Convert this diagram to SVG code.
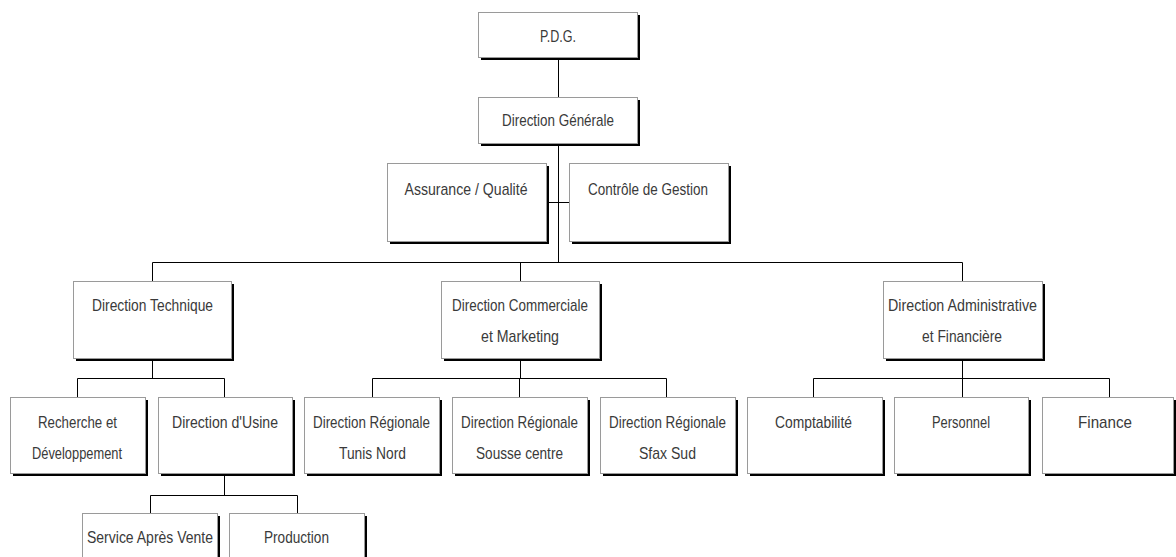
<svg xmlns="http://www.w3.org/2000/svg" width="1176" height="557" viewBox="0 0 1176 557">
<style>
.sh{fill:#000}
.bx{fill:#fff;stroke:#9a9a9a;stroke-width:1}
.t{font-family:"Liberation Sans",Arial,sans-serif;font-size:17px;fill:#3a3a3a;text-anchor:middle}
.c{fill:none;stroke:#000;stroke-width:1}
</style>
<rect width="1176" height="557" fill="#fff"/>
<g id="connectors">
<path class="c" d="M558.5 57V97M558.5 143V262.5M546 202.5H569M152.5 262.5H962.5M152.5 262.5V281M520.5 262.5V281M962.5 262.5V281"/>
<path class="c" d="M152.5 358V378.5M77.5 378.5H224.5M77.5 378.5V397M224.5 378.5V397"/>
<path class="c" d="M520.5 358V378.5M372.5 378.5H666.5M372.5 378.5V397M519.5 378.5V397M666.5 378.5V397"/>
<path class="c" d="M962.5 358V378.5M813.5 378.5H1109.5M813.5 378.5V397M962.5 378.5V397M1109.5 378.5V397"/>
<path class="c" d="M224.5 473V495.5M150.5 495.5H297.5M150.5 495.5V513M297.5 495.5V513"/>
</g>
<g id="pdg"><rect class="sh" x="481" y="15" width="159" height="45"/><rect class="bx" x="478.5" y="12.5" width="159" height="45"/><text class="t" x="558" y="42" textLength="36" lengthAdjust="spacingAndGlyphs">P.D.G.</text></g>
<g id="direction-generale"><rect class="sh" x="481" y="100" width="159" height="46"/><rect class="bx" x="478.5" y="97.5" width="159" height="46"/><text class="t" x="558" y="126" textLength="112" lengthAdjust="spacingAndGlyphs">Direction Générale</text></g>
<g id="assurance-qualite"><rect class="sh" x="390" y="166" width="159" height="78"/><rect class="bx" x="387.5" y="163.5" width="159" height="78"/><text class="t" x="466" y="195" textLength="123" lengthAdjust="spacingAndGlyphs">Assurance / Qualité</text></g>
<g id="controle-gestion"><rect class="sh" x="572" y="166" width="159" height="78"/><rect class="bx" x="569.5" y="163.5" width="159" height="78"/><text class="t" x="648" y="195" textLength="120" lengthAdjust="spacingAndGlyphs">Contrôle de Gestion</text></g>
<g id="direction-technique"><rect class="sh" x="76" y="284" width="158" height="77"/><rect class="bx" x="73.5" y="281.5" width="158" height="77"/><text class="t" x="152.5" y="311" textLength="121" lengthAdjust="spacingAndGlyphs">Direction Technique</text></g>
<g id="direction-commerciale"><rect class="sh" x="444" y="284" width="158" height="77"/><rect class="bx" x="441.5" y="281.5" width="158" height="77"/><text class="t" x="520" y="311" textLength="136" lengthAdjust="spacingAndGlyphs">Direction Commerciale</text><text class="t" x="520" y="342" textLength="78" lengthAdjust="spacingAndGlyphs">et Marketing</text></g>
<g id="direction-administrative"><rect class="sh" x="886" y="284" width="159" height="77"/><rect class="bx" x="883.5" y="281.5" width="159" height="77"/><text class="t" x="962.5" y="311" textLength="149" lengthAdjust="spacingAndGlyphs">Direction Administrative</text><text class="t" x="962" y="342" textLength="80" lengthAdjust="spacingAndGlyphs">et Financière</text></g>
<g id="recherche-developpement"><rect class="sh" x="13" y="400" width="135" height="76"/><rect class="bx" x="10.5" y="397.5" width="135" height="76"/><text class="t" x="77.5" y="428" textLength="79" lengthAdjust="spacingAndGlyphs">Recherche et</text><text class="t" x="77" y="459" textLength="90" lengthAdjust="spacingAndGlyphs">Développement</text></g>
<g id="direction-usine"><rect class="sh" x="161" y="400" width="134" height="76"/><rect class="bx" x="158.5" y="397.5" width="134" height="76"/><text class="t" x="225" y="428" textLength="106" lengthAdjust="spacingAndGlyphs">Direction d'Usine</text></g>
<g id="dr-tunis-nord"><rect class="sh" x="307" y="400" width="135" height="76"/><rect class="bx" x="304.5" y="397.5" width="135" height="76"/><text class="t" x="371.5" y="428" textLength="117" lengthAdjust="spacingAndGlyphs">Direction Régionale</text><text class="t" x="372.5" y="459" textLength="67" lengthAdjust="spacingAndGlyphs">Tunis Nord</text></g>
<g id="dr-sousse-centre"><rect class="sh" x="455" y="400" width="135" height="76"/><rect class="bx" x="452.5" y="397.5" width="135" height="76"/><text class="t" x="519.5" y="428" textLength="117" lengthAdjust="spacingAndGlyphs">Direction Régionale</text><text class="t" x="519.5" y="459" textLength="87" lengthAdjust="spacingAndGlyphs">Sousse centre</text></g>
<g id="dr-sfax-sud"><rect class="sh" x="603" y="400" width="135" height="76"/><rect class="bx" x="600.5" y="397.5" width="135" height="76"/><text class="t" x="667.5" y="428" textLength="117" lengthAdjust="spacingAndGlyphs">Direction Régionale</text><text class="t" x="667.5" y="459" textLength="57" lengthAdjust="spacingAndGlyphs">Sfax Sud</text></g>
<g id="comptabilite"><rect class="sh" x="750" y="400" width="135" height="76"/><rect class="bx" x="747.5" y="397.5" width="135" height="76"/><text class="t" x="813.5" y="428" textLength="77" lengthAdjust="spacingAndGlyphs">Comptabilité</text></g>
<g id="personnel"><rect class="sh" x="897" y="400" width="134" height="76"/><rect class="bx" x="894.5" y="397.5" width="134" height="76"/><text class="t" x="961" y="428" textLength="58" lengthAdjust="spacingAndGlyphs">Personnel</text></g>
<g id="finance"><rect class="sh" x="1045" y="400" width="135" height="76"/><rect class="bx" x="1042.5" y="397.5" width="131" height="76"/><text class="t" x="1105" y="428" textLength="54" lengthAdjust="spacingAndGlyphs">Finance</text></g>
<g id="service-apres-vente"><rect class="sh" x="85" y="516" width="135" height="60"/><rect class="bx" x="82.5" y="513.5" width="135" height="60"/><text class="t" x="150" y="543" textLength="126" lengthAdjust="spacingAndGlyphs">Service Après Vente</text></g>
<g id="production"><rect class="sh" x="232" y="516" width="135" height="60"/><rect class="bx" x="229.5" y="513.5" width="135" height="60"/><text class="t" x="296.5" y="543" textLength="65" lengthAdjust="spacingAndGlyphs">Production</text></g>
</svg>
